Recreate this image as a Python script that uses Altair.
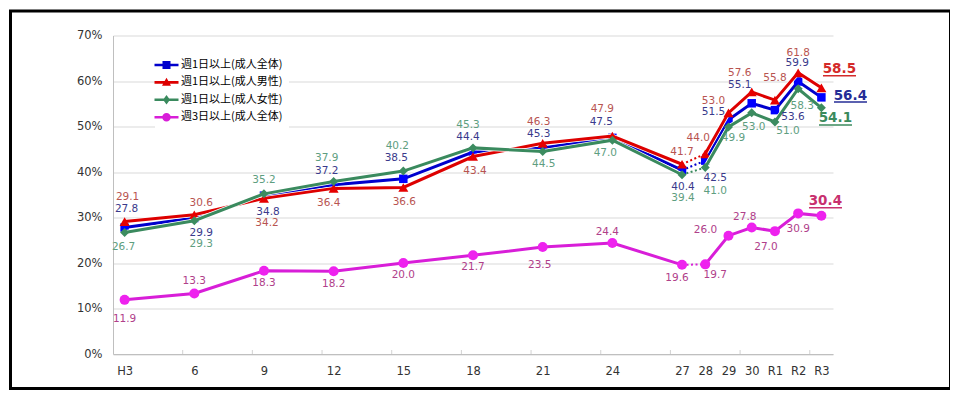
import json
import altair as alt
import pandas as pd

# ---------------- data ----------------
categories = ["H3", "6", "9", "12", "15", "18", "21", "24", "27", "28", "29", "30", "R1", "R2", "R3"]
years = [1991, 1994, 1997, 2000, 2003, 2006, 2009, 2012, 2015, 2016, 2017, 2018, 2019, 2020, 2021]
tick_years = [1993.5, 1996.5, 1999.5, 2002.5, 2005.5, 2008.5, 2011.5, 2014.5, 2017.5, 2020.5]
y_ticks = [0, 10, 20, 30, 40, 50, 60, 70]

series_names = ["週1日以上(成人全体)", "週1日以上(成人男性)", "週1日以上(成人女性)", "週3日以上(成人全体)"]
weekly1_all = [27.8, 29.9, 34.8, 37.2, 38.5, 44.4, 45.3, 47.5, 40.4, 42.5, 51.5, 55.1, 53.6, 59.9, 56.4]
weekly1_men = [29.1, 30.6, 34.2, 36.4, 36.6, 43.4, 46.3, 47.9, 41.7, 44.0, 53.0, 57.6, 55.8, 61.8, 58.5]
weekly1_women = [26.7, 29.3, 35.2, 37.9, 40.2, 45.3, 44.5, 47.0, 39.4, 41.0, 49.9, 53.0, 51.0, 58.3, 54.1]
weekly3_all = [11.9, 13.3, 18.3, 18.2, 20.0, 21.7, 23.5, 24.4, 19.6, 19.7, 26.0, 27.8, 27.0, 30.9, 30.4]
series_values = [weekly1_all, weekly1_men, weekly1_women, weekly3_all]

# ---------------- label placement (pixel offsets from each point) ----------------
label_dx = {
    0: [2, 7, 4, -7, -7, -5, -4, -11, 1, 10, -15, -12, 18, -1, 29],
    1: [3, 7, 3, -5, 1, 2, -4, -10, 0, -7, -15, -12, 0, 0, 18],
    2: [-1, 7, 0, -7, -6, -5, 1, -7, 1, 10, 5, 2, 13, 4, 14],
    3: [0, 0, 0, 0, 0, 0, -3, -5, -5, 10, -23, -7, -9, 0, 4],
}
label_dy = {
    0: [-18.5, 15, 16, -14, -20.5, -14.7, -14, -16, 17, 17.7, -8, -18, 7, -18, -1.7],
    1: [-25, -12, 25, 15, 15, 14.5, -21.6, -27, -12.6, -15.5, -12, -19, -22, -20, -18.8],
    2: [14, 23.6, -14, -24, -25.4, -23, 12, 13, 23.6, 23.5, 11, 14, 9, 17, 10.5],
    3: [19, -12, 12, 13, 12, 11.4, 18, -11, 13, 11, -6, -11, 15.5, 16, -15],
}
# underline of the highlighted last value: (x from, x to, y) in pixels from the point
underline = {
    0: (12.6, 45.6, 4.6),
    1: (1.6, 34.6, -12.1),
    2: (-2.4, 30.6, 17.2),
    3: (-12.4, 20.6, -8.0),
}

# ---------------- styles ----------------
line_colors = ["#0000CC", "#DD0000", "#3A8A5E", "#D81ED8"]
marker_colors = ["#0000FF", "#E60000", "#3C8C60", "#EE22EE"]
label_colors = ["#3A3A8C", "#B85450", "#5E9E80", "#B0408A"]
bold_colors = ["#242C96", "#D42A2A", "#3B8A5C", "#C8306E"]
shapes = ["square", "triangle-up", "diamond", "circle"]
sizes = [72, 100, 81, 100]

LINE = "M-2.4,-0.26L2.4,-0.26L2.4,0.26L-2.4,0.26Z"
legend_paths = [
    LINE + "M-0.8,-0.8L0.8,-0.8L0.8,0.8L-0.8,0.8Z",
    LINE + "M0,-0.95L0.9,0.65L-0.9,0.65Z",
    LINE + "M0,-0.95L0.7,0L0,0.95L-0.7,0Z",
    LINE + "M-0.85,0A0.85,0.85,0,1,1,0.85,0A0.85,0.85,0,1,1,-0.85,0Z",
]

W, H = 720, 318.5
X_DOMAIN = [1990.5, 2021.5]
Y_DOMAIN = [0, 70]
PX_X = W / (X_DOMAIN[1] - X_DOMAIN[0])
PX_Y = H / (Y_DOMAIN[1] - Y_DOMAIN[0])
FONT = "DejaVu Sans"

label_expr = f"{json.dumps(categories)}[indexof({json.dumps(years)}, datum.value)]"
x_axis = alt.Axis(values=years, labelExpr=label_expr, ticks=False, grid=False, title=None,
                  domainColor="#BFBFBF", labelFont=FONT, labelFontSize=11.5, labelColor="#333333",
                  labelPadding=11)
y_axis = alt.Axis(values=y_ticks, labelExpr="datum.value + '%'", ticks=False, grid=True, title=None,
                  gridColor="#D9D9D9", domainColor="#BFBFBF", labelFont=FONT, labelFontSize=11.5,
                  labelColor="#333333", labelPadding=11)
x_scale = alt.Scale(domain=X_DOMAIN, nice=False, zero=False)
y_scale = alt.Scale(domain=Y_DOMAIN, nice=False, zero=False)


def X(field):
    return alt.X(f"{field}:Q", scale=x_scale, axis=x_axis)


def Y(field):
    return alt.Y(f"{field}:Q", scale=y_scale, axis=y_axis)


line_layers = []
label_layers = []
for i, vals in enumerate(series_values):
    df = pd.DataFrame({"year": years, "value": vals, "idx": range(len(years))})
    df["seg"] = ["a" if k <= 8 else "b" for k in range(len(years))]
    df["lx"] = [y + dx / PX_X for y, dx in zip(years, label_dx[i])]
    df["ly"] = [v - dy / PX_Y for v, dy in zip(vals, label_dy[i])]
    df["text"] = [f"{v:.1f}" for v in vals]

    dotted = df.iloc[8:10]
    halo = alt.Chart(df).mark_line(color="white", strokeWidth=4.5, strokeJoin="round").encode(
        x=X("year"), y=Y("value"), detail="seg:N")
    line = alt.Chart(df).mark_line(color=line_colors[i], strokeWidth=3, strokeJoin="miter").encode(
        x=X("year"), y=Y("value"), detail="seg:N")
    dot = alt.Chart(dotted).mark_line(color=line_colors[i], strokeWidth=2, strokeDash=[2, 2.5]).encode(
        x=X("year"), y=Y("value"))
    pts = alt.Chart(df).mark_point(filled=True, opacity=1, shape=shapes[i], size=sizes[i],
                                   color=marker_colors[i]).encode(x=X("year"), y=Y("value"))
    line_layers += [halo, dot, line, pts]

    normal = df.iloc[:-1]
    last = df.iloc[-1:].copy()
    txt = alt.Chart(normal).mark_text(font=FONT, fontSize=10.5, color=label_colors[i],
                                      align="center", baseline="middle").encode(
        x=X("lx"), y=Y("ly"), text="text:N")
    big = alt.Chart(last).mark_text(font=FONT, fontSize=13.5, fontWeight="bold", color=bold_colors[i],
                                    align="center", baseline="middle").encode(
        x=X("lx"), y=Y("ly"), text="text:N")
    ux1, ux2, uy = underline[i]
    last["ux1"] = last["year"] + ux1 / PX_X
    last["ux2"] = last["year"] + ux2 / PX_X
    last["uy"] = last["value"] - uy / PX_Y
    ul = alt.Chart(last).mark_rule(color=bold_colors[i], strokeWidth=1.6).encode(
        x=X("ux1"), x2="ux2:Q", y=Y("uy"))
    label_layers += [txt, big, ul]

ticks = alt.Chart(pd.DataFrame({"t": tick_years, "z": [0] * len(tick_years)})).mark_tick(
    orient="vertical", size=4, thickness=1, yOffset=-2, color="#BFBFBF").encode(x=X("t"), y=Y("z"))

legend_layer = alt.Chart(pd.DataFrame({"series": series_names})).transform_filter("false").mark_point(
    filled=True, opacity=1).encode(
    color=alt.Color("series:N", scale=alt.Scale(domain=series_names, range=line_colors),
                    legend=alt.Legend(title=None, orient="none", legendX=42, legendY=18, symbolSize=100,
                                      labelFont="Noto Sans CJK JP", labelFontSize=11, labelColor="black",
                                      labelOffset=9, rowPadding=5.4, padding=6, fillColor="white",
                                      symbolStrokeWidth=0)),
    shape=alt.Shape("series:N", scale=alt.Scale(domain=series_names, range=legend_paths)),
)

frame = alt.Chart(alt.Data(values=[{}])).mark_rect(fillOpacity=0, stroke="black", strokeWidth=3).encode(
    x=alt.value(-102.5), x2=alt.value(837.5), y=alt.value(-24.5), y2=alt.value(353))

chart = alt.layer(ticks, *line_layers, *label_layers, legend_layer, frame).properties(
    width=W, height=H,
    padding={"left": 105, "top": 27.5, "right": 117, "bottom": 37},
    autosize=alt.AutoSizeParams(type="none"),
).configure_view(strokeWidth=0)

chart.save("out.html", embed_options={"renderer": "svg", "actions": False})
